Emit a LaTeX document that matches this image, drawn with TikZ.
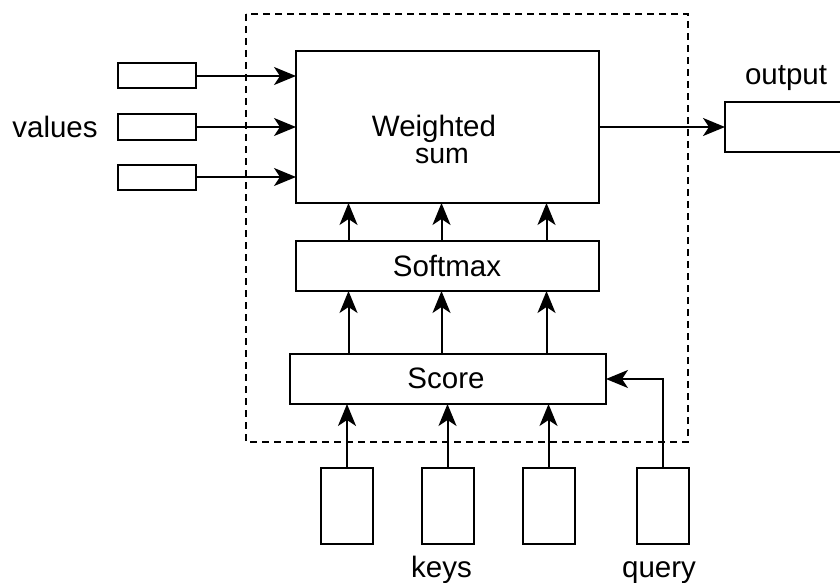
\documentclass[tikz,border=0pt]{standalone}
\usepackage{fontspec}
\setmainfont{Liberation Sans}
\usetikzlibrary{arrows.meta}
\begin{document}
\begin{tikzpicture}[x=1pt,y=-1pt,
  line width=2pt,
  box/.style={draw, line width=2pt, inner sep=0pt, outer sep=0pt},
  arr/.style={-{Stealth[length=22pt,width=18pt,inset=6pt]}, line width=2pt},
  lbl/.style={font=\fontsize{29.5}{30}\selectfont, inner sep=0pt, anchor=base},
  frame/.style={draw, line width=2pt, dash pattern=on 7pt off 5pt}]
\clip (0,0) rectangle (840,583);
% dashed frame
\draw[frame] (246,14) rectangle (688,442);
% main boxes
\node[box, minimum width=303pt, minimum height=152pt] (ws) at (447.5,127) {};
\node[box, minimum width=303pt, minimum height=50pt] (sm) at (447.5,266) {};
\node[box, minimum width=316pt, minimum height=50pt] (sc) at (448,379) {};
% value boxes
\node[box, minimum width=78pt, minimum height=25pt] (v1) at (157,76) {};
\node[box, minimum width=78pt, minimum height=25pt] (v2) at (157,127) {};
\node[box, minimum width=78pt, minimum height=25pt] (v3) at (157,177) {};
% key and query boxes
\node[box, minimum width=52pt, minimum height=76pt] (k1) at (347,506) {};
\node[box, minimum width=52pt, minimum height=76pt] (k2) at (447.5,506) {};
\node[box, minimum width=52pt, minimum height=76pt] (k3) at (548.5,506) {};
\node[box, minimum width=52pt, minimum height=76pt] (q) at (662.5,506) {};
% output box
\node[box, minimum width=140pt, minimum height=50pt] (out) at (795,127) {};
% labels
\node[lbl] (wst1) at (434,136) {Weighted};
\node[lbl, font=\fontsize{28.5}{30}\selectfont] (wst2) at (442,163) {sum};
\node[lbl] (smt) at (447,276) {Softmax};
\node[lbl] (sct) at (446,388) {Score};
\node[lbl] (vlab) at (55,137) {values};
\node[lbl] (klab) at (441.5,577) {keys};
\node[lbl] (qlab) at (659,577) {query};
\node[lbl] (olab) at (786,85) {output};
% column coordinates
\coordinate (c1) at (348.5,0);
\coordinate (c2) at (441.5,0);
\coordinate (c3) at (546.5,0);
% arrows
\draw[arr] (v1.east) -- (v1 -| ws.west);
\draw[arr] (v2.east) -- (v2 -| ws.west);
\draw[arr] (v3.east) -- (v3 -| ws.west);
\draw[arr] (ws.east) -- (out.west);
\draw[arr] (sm.north -| c1) -- (ws.south -| c1);
\draw[arr] (sm.north -| c2) -- (ws.south -| c2);
\draw[arr] (sm.north -| c3) -- (ws.south -| c3);
\draw[arr] (sc.north -| c1) -- (sm.south -| c1);
\draw[arr] (sc.north -| c2) -- (sm.south -| c2);
\draw[arr] (sc.north -| c3) -- (sm.south -| c3);
\draw[arr] (k1.north) -- (sc.south -| k1);
\draw[arr] (k2.north) -- (sc.south -| k2);
\draw[arr] (k3.north) -- (sc.south -| k3);
\draw[arr] (q.north) |- (sc.east);
\end{tikzpicture}
\end{document}
